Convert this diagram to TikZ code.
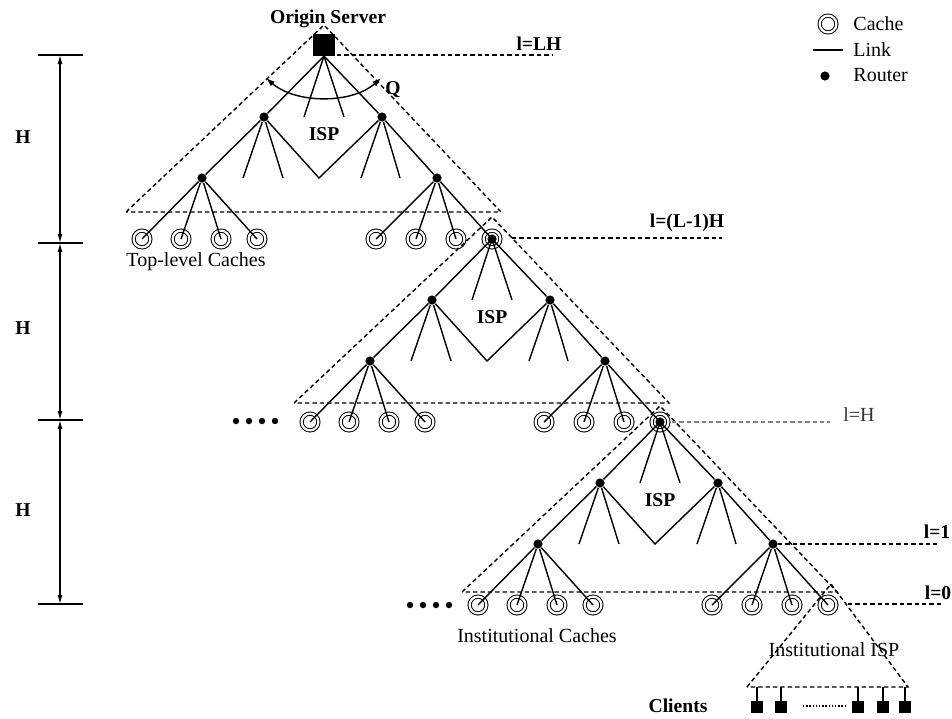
\documentclass[tikz,border=0pt]{standalone}
\usepackage{fontspec}
\setmainfont{Liberation Serif}
\usetikzlibrary{arrows.meta}
\begin{document}
\begin{tikzpicture}[x=0.5pt,y=-0.5pt,
  link/.style={line width=0.7pt},
  dsh/.style={line width=0.7pt, dash pattern=on 2.2pt off 1.5pt},
  router/.style={circle, fill, inner sep=0pt, minimum size=4.6pt},
  cache/.style={circle, draw, double, double distance=1.1pt, line width=0.5pt, minimum size=8.4pt, inner sep=0pt},
  client/.style={rectangle, fill, inner sep=0pt, minimum size=5.8pt},
  bigdot/.style={circle, fill, inner sep=0pt, minimum size=3.2pt},
  lbl/.style={font=\fontsize{10}{12}\selectfont, inner sep=0pt},
  blbl/.style={font=\fontsize{9.8}{12}\selectfont\bfseries, inner sep=0pt},
  dimarrow/.style={line width=0.55pt, {Latex[length=4.5pt,width=2.4pt]}-{Latex[length=4.5pt,width=2.4pt]}},
]
\useasboundingbox (0,0) rectangle (952,718);

% origin server
\node[fill, rectangle, minimum size=11pt, inner sep=0pt] (srv) at (324,45) {};
\node[blbl] (srvlbl) at (328,19) {Origin Server};

% three ISP trees
\foreach \n/\tx/\ty/\ay/\by in {t1/324/56/-31/156, t2/492/239/-22/164, t3/660/422/-16/170}{
  \begin{scope}[shift={(\tx,\ty)}]
    \coordinate (\n-R) at (0,0);
    \foreach \k/\cx in {1/-182,2/-143,3/-103,4/-67,5/52,6/92,7/132,8/168}
      \node[cache] (\n-c\k) at (\cx,183) {};
    \node[router] (\n-A) at (-60,61) {};
    \node[router] (\n-B) at (58,61) {};
    \node[router] (\n-C) at (-122,122) {};
    \node[router] (\n-D) at (113,122) {};
    \coordinate (\n-s1) at (-20,61);
    \coordinate (\n-s2) at (20,61);
    \coordinate (\n-s3) at (-81,122);
    \coordinate (\n-s4) at (-41,122);
    \coordinate (\n-v) at (-5,122);
    \coordinate (\n-s5) at (37,122);
    \coordinate (\n-s6) at (76,122);
    \draw[link] (\n-R) -- (\n-A);
    \draw[link] (\n-R) -- (\n-s1);
    \draw[link] (\n-R) -- (\n-s2);
    \draw[link] (\n-R) -- (\n-B);
    \draw[link] (\n-A) -- (\n-C);
    \draw[link] (\n-A) -- (\n-s3);
    \draw[link] (\n-A) -- (\n-s4);
    \draw[link] (\n-A) -- (\n-v) -- (\n-B);
    \draw[link] (\n-B) -- (\n-s5);
    \draw[link] (\n-B) -- (\n-s6);
    \draw[link] (\n-B) -- (\n-D);
    \foreach \k in {1,2,3,4} \draw[link] (\n-C) -- (\n-c\k.center);
    \foreach \k in {5,6,7,8} \draw[link] (\n-D) -- (\n-c\k.center);
    \coordinate (\n-apex) at (0,\ay);
    \coordinate (\n-bl) at (-198,\by);
    \coordinate (\n-br) at (177,\by);
    \draw[dsh] (\n-bl) -- (\n-apex) -- (\n-br) -- cycle;
    \node[blbl] (\n-isp) at (0,78) {ISP};
  \end{scope}
}
\node[router] (t2-hub) at (t2-R) {};
\node[router] (t3-hub) at (t3-R) {};

% angle Q
\coordinate (qa) at (266,78);
\coordinate (qb) at (381,78);
\draw[link, {Latex[length=4.5pt,width=3pt]}-{Latex[length=4.5pt,width=3pt]}] (qa) .. controls (296,104) and (352,104) .. (qb);
\node[blbl] (qlbl) at (393,90) {Q};

% row dots
\foreach \k/\dx in {1/236,2/249,3/262,4/275} \node[bigdot] (da\k) at (\dx,421) {};
\foreach \k/\dx in {1/410,2/423,3/436,4/449} \node[bigdot] (db\k) at (\dx,605) {};

% captions
\node[lbl] (toplbl) at (196,262) {Top-level Caches};
\node[lbl] (instlbl) at (537,636) {Institutional Caches};

% level lines
\coordinate (lLHa) at (337,55);
\coordinate (lLHb) at (553,55);
\draw[dsh] (lLHa) -- (lLHb);
\node[blbl] (lLH) at (539,44) {l=LH};
\coordinate (lL1a) at (512,238);
\coordinate (lL1b) at (722,238);
\draw[dsh] (lL1a) -- (lL1b);
\node[blbl] (lL1) at (687,223) {l=(L-1)H};
\coordinate (lHa) at (672,422);
\coordinate (lHb) at (830,422);
\draw[dsh, gray] (lHa) -- (lHb);
\node[lbl, text=black!80] (lH) at (859,415) {l=H};
\coordinate (l1b) at (937,544);
\draw[dsh] (t3-D) -- (l1b);
\node[blbl] (l1) at (937,532) {l=1};
\coordinate (l0a) at (848,604);
\coordinate (l0b) at (943,604);
\draw[dsh] (l0a) -- (l0b);
\node[blbl] (l0) at (938,593) {l=0};

% left dimensions
\foreach \k/\yy in {1/55,2/243,3/420,4/604}{
  \coordinate (tl\k) at (38,\yy);
  \coordinate (tr\k) at (83,\yy);
  \coordinate (tm\k) at (60,\yy);
  \draw[line width=0.55pt] (tl\k) -- (tr\k);
}
\draw[dimarrow] (tm1) -- (tm2);
\draw[dimarrow] (tm2) -- (tm3);
\draw[dimarrow] (tm3) -- (tm4);
\node[blbl] (h1) at (23,137) {H};
\node[blbl] (h2) at (23,328) {H};
\node[blbl] (h3) at (23,510) {H};

% institutional ISP
\coordinate (iapex) at (831,584);
\coordinate (ibl) at (747,687);
\coordinate (ibr) at (908,687);
\draw[dsh] (ibl) -- (iapex) -- (ibr) -- cycle;
\node[lbl] (ilbl) at (834,650) {Institutional ISP};
\foreach \k/\cx in {1/757,2/781,3/858,4/883,5/905}{
  \node[client] (cl\k) at (\cx,707) {};
  \coordinate (cb\k) at (\cx,687);
  \draw[line width=0.55pt] (cb\k) -- (cl\k);
}
\coordinate (dl1) at (803,706);
\coordinate (dl2) at (847,706);
\draw[line width=0.7pt, dash pattern=on 0.7pt off 0.9pt] (dl1) -- (dl2);
\node[blbl] (clients) at (678,706) {Clients};

% legend
\node[cache] (lgc) at (828,24) {};
\node[lbl, anchor=west] (lgct) at (853,24) {Cache};
\coordinate (lgl1) at (813,50);
\coordinate (lgl2) at (843,50);
\draw[line width=0.55pt] (lgl1) -- (lgl2);
\node[lbl, anchor=west] (lglt) at (853,50) {Link};
\node[router] (lgr) at (825,76) {};
\node[lbl, anchor=west] (lgrt) at (853,75) {Router};
\end{tikzpicture}
\end{document}
